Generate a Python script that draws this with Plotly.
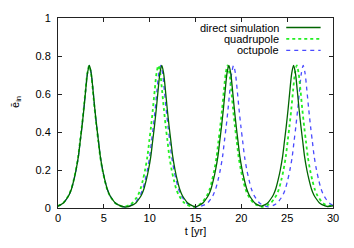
import plotly.graph_objects as go

# ---- data ----
t_direct = [0.00,
            0.32, 0.62, 0.97, 1.22, 1.47, 1.72, 1.97, 2.22, 2.42, 2.62, 2.82, 3.02, 3.22, 3.42, 3.62, 3.82, 4.02, 4.22, 4.42, 4.62, 4.87, 5.12, 5.37, 5.62, 5.87, 6.22, 6.52,
            7.37,
            8.22, 8.52, 8.87, 9.12, 9.37, 9.62, 9.87, 10.12, 10.32, 10.52, 10.72, 10.92, 11.12, 11.32, 11.52, 11.72, 11.92, 12.12, 12.32, 12.52, 12.77, 13.02, 13.27, 13.52, 13.77, 14.12, 14.42,
            14.98,
            15.54, 15.84, 16.19, 16.44, 16.69, 16.94, 17.19, 17.44, 17.64, 17.84, 18.04, 18.24, 18.44, 18.64, 18.84, 19.04, 19.24, 19.44, 19.64, 19.84, 20.09, 20.34, 20.59, 20.84, 21.09, 21.44, 21.74,
            22.17,
            22.60, 22.90, 23.25, 23.50, 23.75, 24.00, 24.25, 24.50, 24.70, 24.90, 25.10, 25.30, 25.50, 25.70, 25.90, 26.10, 26.30, 26.50, 26.70, 26.90, 27.15, 27.40, 27.65, 27.90, 28.15, 28.50, 28.80,
            29.40, 30.00]
e_direct = [0.010,
            0.018, 0.028, 0.05, 0.07, 0.10, 0.145, 0.20, 0.27, 0.35, 0.43, 0.52, 0.62, 0.71, 0.75, 0.71, 0.62, 0.52, 0.43, 0.35, 0.27, 0.20, 0.145, 0.10, 0.07, 0.05, 0.028, 0.018,
            0.005,
            0.018, 0.028, 0.05, 0.07, 0.10, 0.145, 0.20, 0.27, 0.35, 0.43, 0.52, 0.62, 0.71, 0.75, 0.71, 0.62, 0.52, 0.43, 0.35, 0.27, 0.20, 0.145, 0.10, 0.07, 0.05, 0.028, 0.018,
            0.006,
            0.018, 0.028, 0.05, 0.07, 0.10, 0.145, 0.20, 0.27, 0.35, 0.43, 0.52, 0.62, 0.71, 0.75, 0.71, 0.62, 0.52, 0.43, 0.35, 0.27, 0.20, 0.145, 0.10, 0.07, 0.05, 0.028, 0.018,
            0.010,
            0.018, 0.028, 0.05, 0.07, 0.10, 0.145, 0.20, 0.27, 0.35, 0.43, 0.52, 0.62, 0.71, 0.75, 0.71, 0.62, 0.52, 0.43, 0.35, 0.27, 0.20, 0.145, 0.10, 0.07, 0.05, 0.028, 0.018,
            0.008, 0.012]

t_quad = [0.00,
          0.30, 0.60, 0.95, 1.20, 1.45, 1.70, 1.95, 2.20, 2.40, 2.60, 2.80, 3.00, 3.20, 3.40, 3.60, 3.80, 4.00, 4.20, 4.40, 4.60, 4.85, 5.10, 5.35, 5.60, 5.85, 6.20, 6.50,
          7.18,
          7.85, 8.15, 8.50, 8.75, 9.00, 9.25, 9.50, 9.75, 9.95, 10.15, 10.35, 10.55, 10.75, 10.95, 11.15, 11.35, 11.55, 11.75, 11.95, 12.15, 12.40, 12.65, 12.90, 13.15, 13.40, 13.75, 14.05,
          14.73,
          15.40, 15.70, 16.05, 16.30, 16.55, 16.80, 17.05, 17.30, 17.50, 17.70, 17.90, 18.10, 18.30, 18.50, 18.70, 18.90, 19.10, 19.30, 19.50, 19.70, 19.95, 20.20, 20.45, 20.70, 20.95, 21.30, 21.60,
          22.28,
          22.95, 23.25, 23.60, 23.85, 24.10, 24.35, 24.60, 24.85, 25.05, 25.25, 25.45, 25.65, 25.85, 26.05, 26.25, 26.45, 26.65, 26.85, 27.05, 27.25, 27.50, 27.75, 28.00, 28.25, 28.50, 28.85, 29.15,
          29.60, 30.00]
e_quad = [0.010,
          0.018, 0.028, 0.05, 0.07, 0.10, 0.145, 0.20, 0.27, 0.35, 0.43, 0.52, 0.62, 0.71, 0.75, 0.71, 0.62, 0.52, 0.43, 0.35, 0.27, 0.20, 0.145, 0.10, 0.07, 0.05, 0.028, 0.018,
          0.006,
          0.018, 0.028, 0.05, 0.07, 0.10, 0.145, 0.20, 0.27, 0.35, 0.43, 0.52, 0.62, 0.71, 0.75, 0.71, 0.62, 0.52, 0.43, 0.35, 0.27, 0.20, 0.145, 0.10, 0.07, 0.05, 0.028, 0.018,
          0.006,
          0.018, 0.028, 0.05, 0.07, 0.10, 0.145, 0.20, 0.27, 0.35, 0.43, 0.52, 0.62, 0.71, 0.75, 0.71, 0.62, 0.52, 0.43, 0.35, 0.27, 0.20, 0.145, 0.10, 0.07, 0.05, 0.028, 0.018,
          0.006,
          0.018, 0.028, 0.05, 0.07, 0.10, 0.145, 0.20, 0.27, 0.35, 0.43, 0.52, 0.62, 0.71, 0.75, 0.71, 0.62, 0.52, 0.43, 0.35, 0.27, 0.20, 0.145, 0.10, 0.07, 0.05, 0.028, 0.018,
          0.012, 0.014]

t_oct = [0.00,
         0.32, 0.62, 0.97, 1.22, 1.47, 1.72, 1.97, 2.22, 2.42, 2.62, 2.82, 3.02, 3.22, 3.42, 3.62, 3.82, 4.02, 4.22, 4.42, 4.62, 4.87, 5.12, 5.37, 5.62, 5.87, 6.22, 6.52,
         7.31,
         8.10, 8.40, 8.75, 9.00, 9.25, 9.50, 9.75, 10.00, 10.20, 10.40, 10.60, 10.80, 11.00, 11.20, 11.40, 11.60, 11.80, 12.00, 12.20, 12.40, 12.65, 12.90, 13.15, 13.40, 13.65, 14.00, 14.30,
         15.18,
         16.05, 16.35, 16.70, 16.95, 17.20, 17.45, 17.70, 17.95, 18.15, 18.35, 18.55, 18.75, 18.95, 19.15, 19.35, 19.55, 19.75, 19.95, 20.15, 20.35, 20.60, 20.85, 21.10, 21.35, 21.60, 21.95, 22.25,
         22.95,
         23.65, 23.95, 24.30, 24.55, 24.80, 25.05, 25.30, 25.55, 25.75, 25.95, 26.15, 26.35, 26.55, 26.75, 26.95, 27.15, 27.35, 27.55, 27.75, 27.95, 28.20, 28.45, 28.70, 28.95, 29.20, 29.55, 29.85,
         30.00]
e_oct = [0.010,
         0.018, 0.028, 0.05, 0.07, 0.10, 0.145, 0.20, 0.27, 0.35, 0.43, 0.52, 0.62, 0.71, 0.75, 0.71, 0.62, 0.52, 0.43, 0.35, 0.27, 0.20, 0.145, 0.10, 0.07, 0.05, 0.028, 0.018,
         0.005,
         0.018, 0.028, 0.05, 0.07, 0.10, 0.145, 0.20, 0.27, 0.35, 0.43, 0.52, 0.62, 0.71, 0.75, 0.71, 0.62, 0.52, 0.43, 0.35, 0.27, 0.20, 0.145, 0.10, 0.07, 0.05, 0.028, 0.018,
         0.005,
         0.018, 0.028, 0.05, 0.07, 0.10, 0.145, 0.20, 0.27, 0.35, 0.43, 0.52, 0.62, 0.71, 0.75, 0.71, 0.62, 0.52, 0.43, 0.35, 0.27, 0.20, 0.145, 0.10, 0.07, 0.05, 0.028, 0.018,
         0.006,
         0.018, 0.028, 0.05, 0.07, 0.10, 0.145, 0.20, 0.27, 0.35, 0.43, 0.52, 0.62, 0.71, 0.75, 0.71, 0.62, 0.52, 0.43, 0.35, 0.27, 0.20, 0.145, 0.10, 0.07, 0.05, 0.028, 0.018,
         0.016]

series_names = ["direct simulation", "quadrupole", "octupole"]
x_ticks = [0, 5, 10, 15, 20, 25, 30]
y_ticks = [0, 0.2, 0.4, 0.6, 0.8, 1]
y_tick_text = ["0", "0.2", "0.4", "0.6", "0.8", "1"]

# ---- styles ----
colors = ["#006400", "#22ee22", "#4a4aff"]
dashes = ["solid", "dot", "4px,4px"]
widths = [1.3, 1.8, 1.3]
FONT = "Liberation Sans, Arial, sans-serif"

fig = go.Figure()
data = [(t_oct, e_oct), (t_quad, e_quad), (t_direct, e_direct)]
order = [2, 1, 0]
for (tx, ey), i in zip(data, order):
    fig.add_trace(go.Scatter(
        x=tx, y=ey, mode="lines", name=series_names[i],
        line=dict(color=colors[i], dash=dashes[i], width=widths[i], shape="spline", smoothing=0.8),
        showlegend=False, hoverinfo="skip"))

# gnuplot-style legend: text right-aligned, sample to the right
leg_y = [0.95, 0.89, 0.83]
for i, name in enumerate(series_names):
    fig.add_annotation(xref="paper", yref="paper", x=0.81, y=leg_y[i], text=name,
                       showarrow=False, xanchor="right", yanchor="middle",
                       font=dict(family=FONT, size=11, color="black"))
    fig.add_shape(type="line", xref="paper", yref="paper",
                  x0=0.83, x1=0.955, y0=leg_y[i], y1=leg_y[i],
                  line=dict(color=colors[i], dash=dashes[i], width=widths[i]))

# y-axis title (gnuplot places it a bit above centre)
fig.add_annotation(xref="paper", yref="paper", x=-0.155, y=0.56, text="ē<sub>in</sub>",
                   showarrow=False, textangle=-90, xanchor="center", yanchor="middle",
                   font=dict(family=FONT, size=11, color="black"))

axis_common = dict(showgrid=False, zeroline=False, showline=True, linecolor="#222222", linewidth=1,
                   mirror="ticks", ticks="inside", ticklen=4, tickcolor="#222222",
                   tickfont=dict(family=FONT, size=11, color="black"))

fig.update_xaxes(range=[0, 30], tickvals=x_ticks, **axis_common,
                 title=dict(text="t [yr]", font=dict(family=FONT, size=11, color="black"), standoff=4))
fig.update_yaxes(range=[0, 1], tickvals=y_ticks, ticktext=y_tick_text, ticklabelstandoff=4, **axis_common)

fig.update_layout(width=354, height=248, margin=dict(l=58, r=21, t=14, b=39),
                  paper_bgcolor="white", plot_bgcolor="white", showlegend=False)

fig.write_html("out.html", config={"displayModeBar": False},
               post_script="document.body.style.margin='0';")
